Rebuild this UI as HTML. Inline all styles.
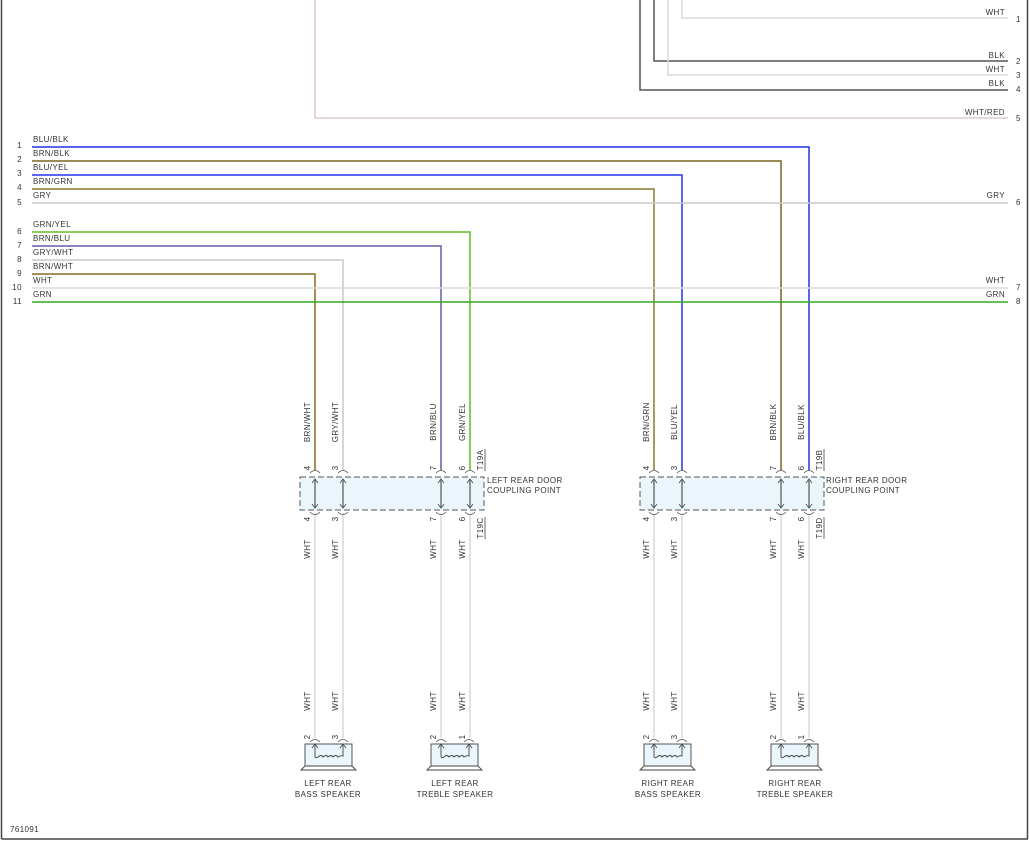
<!DOCTYPE html>
<html><head><meta charset="utf-8"><style>
html,body{margin:0;padding:0;background:#fff}
svg{display:block}
text{font-family:"Liberation Sans",sans-serif;font-size:8px;fill:#333;letter-spacing:0.4px}
</style></head><body>
<svg width="1030" height="841" viewBox="0 0 1030 841" xmlns="http://www.w3.org/2000/svg">
<defs>
<g id="cp">
 <path d="M-5,473 q5,-5 10,0" fill="none" stroke="#555" stroke-width="0.8"/>
 <path d="M-5,512 q5,5 10,0" fill="none" stroke="#555" stroke-width="0.8"/>
 <line x1="0" y1="479" x2="0" y2="508" stroke="#555" stroke-width="1.2"/>
 <path d="M-3,483 L0,479 L3,483 M-3,504 L0,508 L3,504" fill="none" stroke="#555" stroke-width="0.9"/>
</g>
<g id="spk">
 <path d="M-5,742 q5,-5 10,0 M23,742 q5,-5 10,0" fill="none" stroke="#555" stroke-width="0.8"/>
 <rect x="-10" y="744" width="47" height="22" fill="#eaf5fc" stroke="#444" stroke-width="0.9"/>
 <path d="M-14,770 L-10,766 L37,766 L41,770 Z" fill="#fff" stroke="#444" stroke-width="0.9"/>
 <path d="M0,744 L0,756 Q0,759 3,757 q3,-3 5,0 q3,-3 5,0 q3,-3 5,0 q3,-3 5,0 q3,-2 5,-1 L28,744" fill="none" stroke="#444" stroke-width="0.9"/>
 <path d="M-3,748 L0,744 L3,748 M25,748 L28,744 L31,748" fill="none" stroke="#444" stroke-width="0.8"/>
</g>
</defs>
<line x1="1.5" y1="0" x2="1.5" y2="839" stroke="#444" stroke-width="1.5"/>
<line x1="1.5" y1="839" x2="1028" y2="839" stroke="#444" stroke-width="1.5"/>
<line x1="1027.5" y1="0" x2="1027.5" y2="839" stroke="#444" stroke-width="1.5"/>

<g fill="none" stroke-width="1.5">
<path d="M315,0 V118 H1008" stroke="#e0c8c8"/>
<path d="M640,0 V90 H1008" stroke="#555"/>
<path d="M654,0 V61 H1008" stroke="#555"/>
<path d="M668,0 V75 H1008" stroke="#d8d8d8"/>
<path d="M682,0 V18 H1008" stroke="#d8d8d8"/>
</g>
<g text-anchor="end">
<text x="1005" y="15">WHT</text><text x="1005" y="58">BLK</text><text x="1005" y="72">WHT</text><text x="1005" y="86">BLK</text><text x="1005" y="115">WHT/RED</text>
</g>
<g>
<text x="1016" y="22">1</text><text x="1016" y="64">2</text><text x="1016" y="78">3</text><text x="1016" y="92">4</text><text x="1016" y="121">5</text>
</g>

<g fill="none" stroke-width="1.5">
<path d="M32,147 H809 V470" stroke="#2233dd"/>
<path d="M32,161 H781 V470" stroke="#7a6420"/>
<path d="M32,175 H682 V470" stroke="#2233ee"/>
<path d="M32,189 H654 V470" stroke="#8a7a30"/>
<path d="M32,203 H1008" stroke="#c8c8c8"/>
<path d="M32,232 H470 V470" stroke="#66bb22"/>
<path d="M32,246 H441 V470" stroke="#6a5aa8"/>
<path d="M32,260 H343 V470" stroke="#c8c8c8"/>
<path d="M32,274 H315 V470" stroke="#8a6a20"/>
<path d="M32,288 H1008" stroke="#dcdcdc"/>
<path d="M32,302 H1008" stroke="#33aa22"/>
</g>
<g>
<text x="33" y="142">BLU/BLK</text><text x="33" y="156">BRN/BLK</text><text x="33" y="170">BLU/YEL</text><text x="33" y="184">BRN/GRN</text><text x="33" y="198">GRY</text>
<text x="33" y="227">GRN/YEL</text><text x="33" y="241">BRN/BLU</text><text x="33" y="255">GRY/WHT</text><text x="33" y="269">BRN/WHT</text><text x="33" y="283">WHT</text><text x="33" y="297">GRN</text>
</g>
<g text-anchor="end">
<text x="22" y="148">1</text><text x="22" y="162">2</text><text x="22" y="176">3</text><text x="22" y="190">4</text><text x="22" y="205">5</text>
<text x="22" y="234">6</text><text x="22" y="248">7</text><text x="22" y="262">8</text><text x="22" y="276">9</text><text x="22" y="290">10</text><text x="22" y="304">11</text>
</g>
<g text-anchor="end"><text x="1005" y="198">GRY</text><text x="1005" y="283">WHT</text><text x="1005" y="297">GRN</text></g>
<g><text x="1016" y="205">6</text><text x="1016" y="290">7</text><text x="1016" y="304">8</text></g>

<g text-anchor="middle">
<text transform="translate(310,422) rotate(-90)">BRN/WHT</text>
<text transform="translate(338,422) rotate(-90)">GRY/WHT</text>
<text transform="translate(436,422) rotate(-90)">BRN/BLU</text>
<text transform="translate(465,422) rotate(-90)">GRN/YEL</text>
<text transform="translate(649,422) rotate(-90)">BRN/GRN</text>
<text transform="translate(677,422) rotate(-90)">BLU/YEL</text>
<text transform="translate(776,422) rotate(-90)">BRN/BLK</text>
<text transform="translate(804,422) rotate(-90)">BLU/BLK</text>
</g>

<rect x="300" y="477" width="184" height="33" fill="#eaf5fc" stroke="#555" stroke-dasharray="6,3" stroke-width="1"/>
<rect x="640" y="477" width="184" height="33" fill="#eaf5fc" stroke="#555" stroke-dasharray="6,3" stroke-width="1"/>
<g fill="none" stroke="#d8d8d8" stroke-width="1.5">
<path d="M315,513 V738 M343,513 V738 M441,513 V738 M470,513 V738 M654,513 V738 M682,513 V738 M781,513 V738 M809,513 V738"/>
</g>
<use href="#cp" x="315"/><use href="#cp" x="343"/><use href="#cp" x="441"/><use href="#cp" x="470"/>
<use href="#cp" x="654"/><use href="#cp" x="682"/><use href="#cp" x="781"/><use href="#cp" x="809"/>
<g text-anchor="middle">
<text transform="translate(310,468) rotate(-90)">4</text><text transform="translate(338,468) rotate(-90)">3</text><text transform="translate(436,468) rotate(-90)">7</text><text transform="translate(465,468) rotate(-90)">6</text>
<text transform="translate(649,468) rotate(-90)">4</text><text transform="translate(677,468) rotate(-90)">3</text><text transform="translate(776,468) rotate(-90)">7</text><text transform="translate(804,468) rotate(-90)">6</text>
<text transform="translate(310,519) rotate(-90)">4</text><text transform="translate(338,519) rotate(-90)">3</text><text transform="translate(436,519) rotate(-90)">7</text><text transform="translate(465,519) rotate(-90)">6</text>
<text transform="translate(649,519) rotate(-90)">4</text><text transform="translate(677,519) rotate(-90)">3</text><text transform="translate(776,519) rotate(-90)">7</text><text transform="translate(804,519) rotate(-90)">6</text>
<text transform="translate(483,460) rotate(-90)">T19A</text>
<text transform="translate(483,528) rotate(-90)">T19C</text>
<text transform="translate(822,460) rotate(-90)">T19B</text>
<text transform="translate(822,528) rotate(-90)">T19D</text>
</g>
<g stroke="#444" stroke-width="0.8">
<line x1="485" y1="449" x2="485" y2="471"/><line x1="485" y1="517" x2="485" y2="539"/>
<line x1="824" y1="449" x2="824" y2="471"/><line x1="824" y1="517" x2="824" y2="539"/>
</g>
<text x="487" y="483">LEFT REAR DOOR</text><text x="487" y="493">COUPLING POINT</text>
<text x="826" y="483">RIGHT REAR DOOR</text><text x="826" y="493">COUPLING POINT</text>

<g text-anchor="middle">
<text transform="translate(310,549) rotate(-90)">WHT</text><text transform="translate(338,549) rotate(-90)">WHT</text><text transform="translate(436,549) rotate(-90)">WHT</text><text transform="translate(465,549) rotate(-90)">WHT</text>
<text transform="translate(649,549) rotate(-90)">WHT</text><text transform="translate(677,549) rotate(-90)">WHT</text><text transform="translate(776,549) rotate(-90)">WHT</text><text transform="translate(804,549) rotate(-90)">WHT</text>
<text transform="translate(310,701) rotate(-90)">WHT</text><text transform="translate(338,701) rotate(-90)">WHT</text><text transform="translate(436,701) rotate(-90)">WHT</text><text transform="translate(465,701) rotate(-90)">WHT</text>
<text transform="translate(649,701) rotate(-90)">WHT</text><text transform="translate(677,701) rotate(-90)">WHT</text><text transform="translate(776,701) rotate(-90)">WHT</text><text transform="translate(804,701) rotate(-90)">WHT</text>
<text transform="translate(310,737) rotate(-90)">2</text><text transform="translate(338,737) rotate(-90)">3</text><text transform="translate(436,737) rotate(-90)">2</text><text transform="translate(465,737) rotate(-90)">1</text>
<text transform="translate(649,737) rotate(-90)">2</text><text transform="translate(677,737) rotate(-90)">3</text><text transform="translate(776,737) rotate(-90)">2</text><text transform="translate(804,737) rotate(-90)">1</text>
</g>

<use href="#spk" x="315"/><use href="#spk" x="441"/><use href="#spk" x="654"/><use href="#spk" x="781"/>
<g text-anchor="middle">
<text x="328" y="786">LEFT REAR</text><text x="328" y="797">BASS SPEAKER</text>
<text x="455" y="786">LEFT REAR</text><text x="455" y="797">TREBLE SPEAKER</text>
<text x="668" y="786">RIGHT REAR</text><text x="668" y="797">BASS SPEAKER</text>
<text x="795" y="786">RIGHT REAR</text><text x="795" y="797">TREBLE SPEAKER</text>
</g>
<text x="10" y="832">761091</text>
</svg>
</body></html>
